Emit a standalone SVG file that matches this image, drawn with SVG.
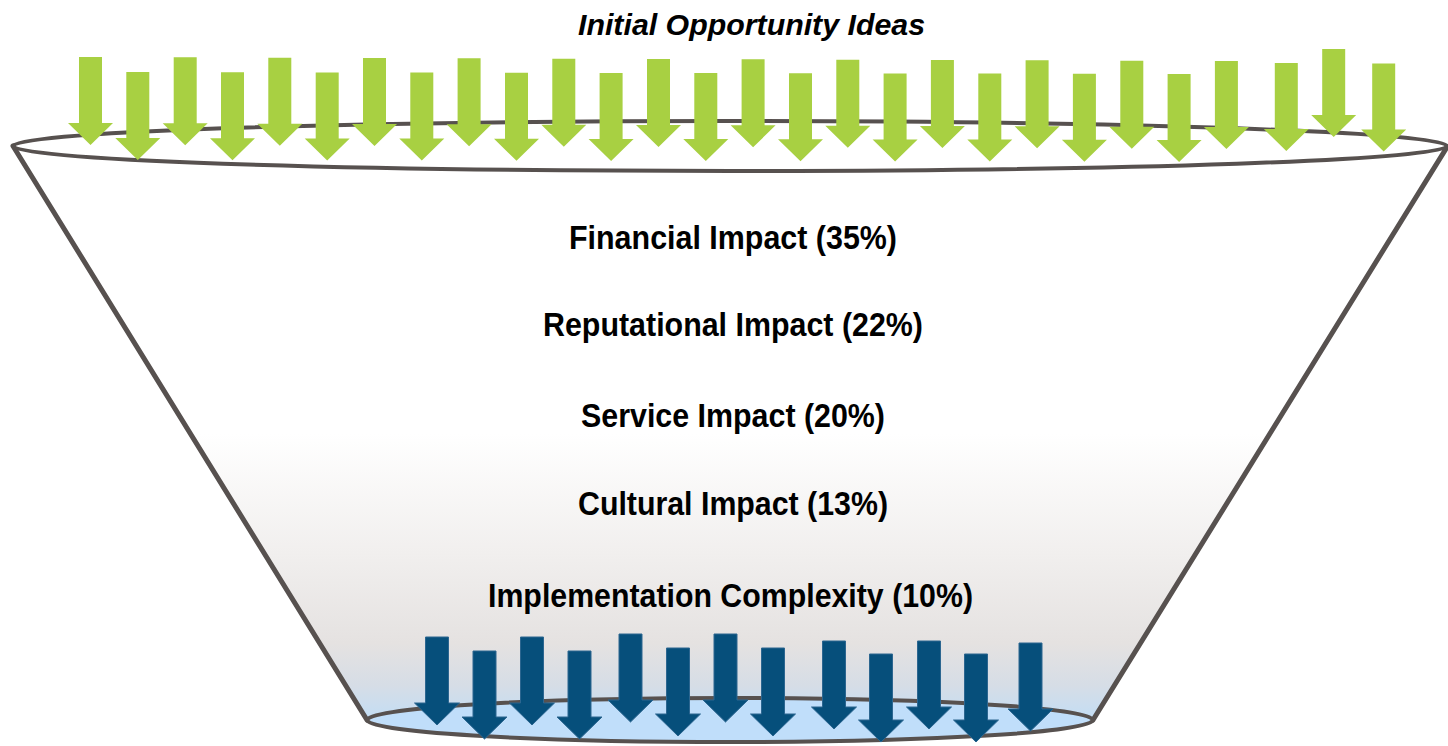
<svg xmlns="http://www.w3.org/2000/svg" xmlns:xlink="http://www.w3.org/1999/xlink" width="1448" height="746" viewBox="0 0 1448 746">
  <defs>
    <linearGradient id="funnelFill" gradientUnits="userSpaceOnUse" x1="0" y1="146" x2="0" y2="745">
      <stop offset="0" stop-color="#ffffff"/>
      <stop offset="0.48" stop-color="#ffffff"/>
      <stop offset="0.68" stop-color="#f1efee"/>
      <stop offset="0.83" stop-color="#e5e2e1"/>
      <stop offset="0.9" stop-color="#d6dde6"/>
      <stop offset="0.96" stop-color="#c2ddf5"/>
      <stop offset="1" stop-color="#bcdcf8"/>
    </linearGradient>
    <path id="arrow" d="M-11.5,0 H11.5 V66 H22.5 L0,88 L-22.5,66 H-11.5 Z"/>
  </defs>
  <style>
    .edge { fill: none; stroke: #57514f; stroke-width: 5; stroke-linecap: round; stroke-linejoin: round; }
    .rim { fill: none; stroke: #57514f; stroke-width: 4; }
    .green use { fill: #a8d042; }
    .blue use { fill: #064f7b; stroke: #2c6690; stroke-width: 1; }
    .lbl { font-family: "Liberation Sans", Arial, sans-serif; font-weight: bold; font-size: 33px; fill: #000; text-anchor: middle; }
    .title { font-family: "Liberation Sans", Arial, sans-serif; font-weight: bold; font-style: italic; font-size: 29px; fill: #000; text-anchor: middle; }
  </style>

  <rect x="0" y="0" width="1448" height="746" fill="#ffffff"/>

  <g id="funnel">
    <polygon points="13,146 1447,147 1093,720 367,720" fill="url(#funnelFill)"/>
    <ellipse cx="730" cy="720" rx="363" ry="22" fill="#c0defa"/>
    <ellipse class="rim" cx="730" cy="720" rx="363" ry="22"/>
    <polyline class="edge" points="13,146 367,720"/>
    <polyline class="edge" points="1447,147 1093,720"/>
    <ellipse class="rim" cx="730" cy="146" rx="717" ry="25"/>
  </g>

  <g id="title">
    <text class="title" x="751.5" y="35" textLength="347" lengthAdjust="spacingAndGlyphs">Initial Opportunity Ideas</text>
  </g>

  <g id="green-arrows" class="green">
    <use xlink:href="#arrow" x="90.5" y="57"/>
    <use xlink:href="#arrow" x="137.8" y="72"/>
    <use xlink:href="#arrow" x="185.2" y="57.3"/>
    <use xlink:href="#arrow" x="232.5" y="72.3"/>
    <use xlink:href="#arrow" x="279.8" y="57.7"/>
    <use xlink:href="#arrow" x="327.2" y="72.4"/>
    <use xlink:href="#arrow" x="374.5" y="58"/>
    <use xlink:href="#arrow" x="421.8" y="72.6"/>
    <use xlink:href="#arrow" x="469.1" y="58.3"/>
    <use xlink:href="#arrow" x="516.5" y="72.8"/>
    <use xlink:href="#arrow" x="563.8" y="58.7"/>
    <use xlink:href="#arrow" x="611.1" y="72.9"/>
    <use xlink:href="#arrow" x="658.5" y="59"/>
    <use xlink:href="#arrow" x="705.8" y="73.1"/>
    <use xlink:href="#arrow" x="753.1" y="59.3"/>
    <use xlink:href="#arrow" x="800.5" y="73.3"/>
    <use xlink:href="#arrow" x="847.8" y="59.7"/>
    <use xlink:href="#arrow" x="895.1" y="73.4"/>
    <use xlink:href="#arrow" x="942.4" y="60"/>
    <use xlink:href="#arrow" x="989.8" y="73.6"/>
    <use xlink:href="#arrow" x="1037.1" y="60.3"/>
    <use xlink:href="#arrow" x="1084.4" y="73.8"/>
    <use xlink:href="#arrow" x="1131.8" y="60.7"/>
    <use xlink:href="#arrow" x="1179.1" y="73.9"/>
    <use xlink:href="#arrow" x="1226.4" y="61"/>
    <use xlink:href="#arrow" x="1286.3" y="63"/>
    <use xlink:href="#arrow" x="1333.7" y="49"/>
    <use xlink:href="#arrow" x="1383.7" y="63.5"/>
  </g>

  <g id="criteria">
    <text class="lbl" x="733" y="249" textLength="328" lengthAdjust="spacingAndGlyphs">Financial Impact (35%)</text>
    <text class="lbl" x="733" y="336" textLength="380" lengthAdjust="spacingAndGlyphs">Reputational Impact (22%)</text>
    <text class="lbl" x="733" y="427" textLength="304" lengthAdjust="spacingAndGlyphs">Service Impact (20%)</text>
    <text class="lbl" x="733" y="515" textLength="310" lengthAdjust="spacingAndGlyphs">Cultural Impact (13%)</text>
    <text class="lbl" x="730.5" y="607" textLength="485" lengthAdjust="spacingAndGlyphs">Implementation Complexity (10%)</text>
  </g>

  <g id="blue-arrows" class="blue">
    <use xlink:href="#arrow" x="437" y="637"/>
    <use xlink:href="#arrow" x="484.5" y="651"/>
    <use xlink:href="#arrow" x="532" y="637"/>
    <use xlink:href="#arrow" x="579.5" y="651"/>
    <use xlink:href="#arrow" x="630.5" y="634"/>
    <use xlink:href="#arrow" x="678" y="648"/>
    <use xlink:href="#arrow" x="725.5" y="634"/>
    <use xlink:href="#arrow" x="773" y="648"/>
    <use xlink:href="#arrow" x="834" y="641"/>
    <use xlink:href="#arrow" x="881" y="654"/>
    <use xlink:href="#arrow" x="929" y="641"/>
    <use xlink:href="#arrow" x="976" y="654"/>
    <use xlink:href="#arrow" x="1030.5" y="643"/>
  </g>
</svg>
